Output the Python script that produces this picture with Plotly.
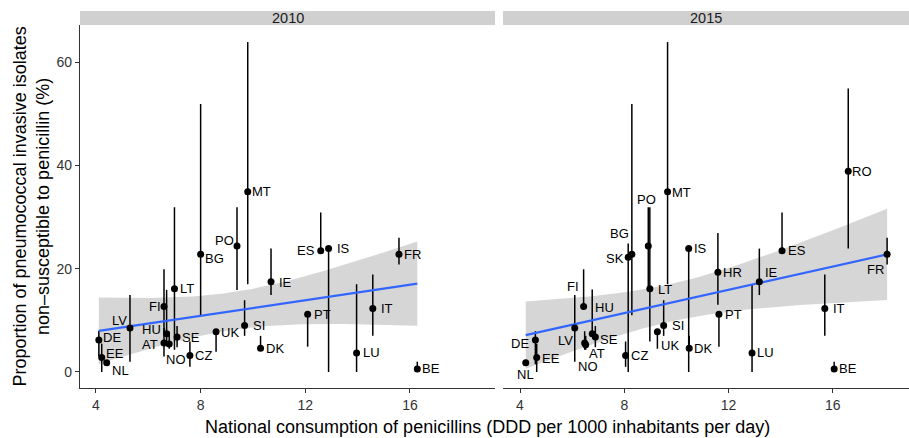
import math
import numpy as np
import plotly.graph_objects as go

# ---------------- data ----------------
countries_2010 = ["DE", "EE", "NL", "LV", "FI", "AT", "HU", "NO", "LT", "SE", "CZ", "BG", "UK",
                  "PO", "SI", "MT", "DK", "IE", "PT", "ES", "IS", "LU", "IT", "FR", "BE"]
consumption_2010 = [4.11, 4.22, 4.41, 5.30, 6.60, 6.60, 6.70, 6.80, 7.00, 7.10, 7.59, 8.00, 8.59,
                    9.39, 9.68, 9.80, 10.29, 10.69, 12.09, 12.59, 12.89, 13.96, 14.58, 15.58, 16.28]
resistance_2010 = [6.2, 2.8, 1.8, 8.5, 12.7, 5.6, 7.4, 5.4, 16.1, 6.8, 3.2, 22.8, 7.8,
                   24.4, 9.0, 34.9, 4.6, 17.5, 11.2, 23.5, 23.9, 3.7, 12.3, 22.8, 0.6]
low_2010 = [3.0, 0.0, 1.8, 2.0, 7.5, 3.0, 5.0, 4.5, 4.3, 4.8, 1.0, 11.0, 3.9,
            15.9, 7.0, 17.0, 4.6, 14.9, 4.9, 23.5, 0.0, 0.0, 7.0, 20.8, 0.6]
high_2010 = [8.0, 5.5, 1.8, 14.9, 19.9, 8.5, 15.9, 7.8, 31.9, 8.9, 5.9, 51.9, 7.8,
             31.9, 13.9, 63.9, 7.0, 23.9, 11.7, 30.9, 23.9, 17.0, 18.9, 26.0, 2.0]

countries_2015 = ["NL", "DE", "EE", "LV", "FI", "AT", "NO", "HU", "SE", "CZ", "SK", "BG", "PO", "LT",
                  "UK", "SI", "MT", "IS", "DK", "HR", "PT", "LU", "IE", "ES", "IT", "BE", "RO", "FR"]
consumption_2015 = [4.22, 4.59, 4.64, 6.10, 6.44, 6.48, 6.52, 6.77, 6.89, 8.05, 8.15, 8.29, 8.92, 8.98,
                    9.27, 9.51, 9.66, 10.47, 10.49, 11.59, 11.63, 12.90, 13.18, 14.05, 15.69, 16.05, 16.59, 18.08]
resistance_2015 = [1.8, 6.2, 2.8, 8.5, 12.7, 5.6, 5.3, 7.4, 6.8, 3.2, 22.2, 22.8, 24.4, 16.1,
                   7.8, 9.0, 34.9, 23.9, 4.6, 19.3, 11.2, 3.7, 17.5, 23.5, 12.3, 0.6, 38.9, 22.8]
low_2015 = [1.8, 1.5, 0.0, 2.0, 12.7, 4.3, 4.3, 7.4, 4.8, 1.0, 0.0, 11.0, 15.9, 5.9,
            4.5, 7.0, 17.0, 0.0, 4.6, 13.0, 4.9, 0.0, 14.9, 23.5, 7.0, 0.6, 23.9, 20.8]
high_2015 = [1.8, 7.9, 5.5, 14.9, 19.9, 7.9, 7.0, 16.0, 8.9, 5.9, 24.9, 51.9, 31.9, 31.9,
             7.8, 13.9, 63.9, 23.9, 7.0, 26.9, 11.7, 17.0, 23.9, 30.9, 18.9, 2.0, 54.9, 26.0]

years = ["2010", "2015"]
x_ticks = [4, 8, 12, 16]
y_ticks = [0, 20, 40, 60]

# label placement (anchor, x shift px, y shift px downward)
label_pos_2010 = [("l", 3, -2), ("l", 3, -4), ("l", 4, 8), ("r", -2, -8), ("r", -2, 0), ("r", -5, 1),
                  ("r", -5, -4), ("l", -4, 15), ("l", 5, 0), ("l", 4, 1), ("l", 4, 0), ("l", 3, 4),
                  ("l", 4, 1), ("r", -2, -6), ("l", 7, 0), ("l", 3, 0), ("l", 4, 0), ("l", 7, 1),
                  ("l", 5, 0), ("r", -5, 0), ("l", 7, 0), ("l", 5, 0), ("l", 7, 0), ("l", 4, 0),
                  ("l", 4, 0)]
label_pos_2015 = [("c", 0, 12), ("r", -5, 4), ("l", 4, 1), ("r", -1, 12), ("r", -4, -20), ("l", 3, 10),
                  ("c", 2, 22), ("l", 2, -26), ("l", 4, 3), ("l", 4, 0), ("r", -3, 1), ("r", -2, -21),
                  ("c", -2, -47), ("l", 7, 1), ("l", 3, 14), ("l", 7, 0), ("l", 3, 1), ("l", 4, 0),
                  ("l", 4, 0), ("l", 4, 0), ("l", 5, 0), ("l", 4, 0), ("l", 5, -9), ("l", 5, 0),
                  ("l", 7, 0), ("l", 4, 0), ("l", 3, 0), ("r", -2, 15)]


# ---------------- helpers: linear model with 95% CI (as geom_smooth(method="lm")) ----------------
def t_quantile(p, df):
    def pdf(t):
        return math.exp(math.lgamma((df + 1) / 2) - math.lgamma(df / 2)) / math.sqrt(df * math.pi) * \
            (1 + t * t / df) ** (-(df + 1) / 2)

    def cdf(t):
        xs = np.linspace(0, t, 2001)
        ys = np.array([pdf(v) for v in xs])
        return 0.5 + float(np.sum((ys[1:] + ys[:-1]) / 2 * np.diff(xs)))

    lo, hi = 0.0, 10.0
    for _ in range(60):
        mid = (lo + hi) / 2
        if cdf(mid) < p:
            lo = mid
        else:
            hi = mid
    return (lo + hi) / 2


def lm_fit(x, y):
    x = np.asarray(x, float)
    y = np.asarray(y, float)
    n = len(x)
    xb, yb = x.mean(), y.mean()
    sxx = np.sum((x - xb) ** 2)
    b = np.sum((x - xb) * (y - yb)) / sxx
    a = yb - b * xb
    resid = y - (a + b * x)
    s = math.sqrt(np.sum(resid ** 2) / (n - 2))
    tq = t_quantile(0.975, n - 2)
    xg = np.linspace(x.min(), x.max(), 80)
    yg = a + b * xg
    se = s * np.sqrt(1 / n + (xg - xb) ** 2 / sxx)
    return xg, yg, yg - tq * se, yg + tq * se


# ---------------- figure ----------------
W, H = 909, 438
ML, MR, MT, MB = 80, 0, 25, 50
PW = W - ML - MR
PH = H - MT - MB

fig = go.Figure()

panels = [
    (countries_2010, consumption_2010, resistance_2010, low_2010, high_2010, label_pos_2010, "x", "y"),
    (countries_2015, consumption_2015, resistance_2015, low_2015, high_2015, label_pos_2015, "x2", "y2"),
]

annotations = []
for cc, xs, ys, los, his, pos, xa, ya in panels:
    xg, yg, lo_b, hi_b = lm_fit(xs, ys)
    # CI band
    fig.add_trace(go.Scatter(x=np.concatenate([xg, xg[::-1]]), y=np.concatenate([hi_b, lo_b[::-1]]),
                             fill="toself", fillcolor="rgba(153,153,153,0.4)", line=dict(width=0),
                             mode="lines", hoverinfo="skip", showlegend=False, xaxis=xa, yaxis=ya))
    # ranges
    bx, by = [], []
    for xv, l, h in zip(xs, los, his):
        bx += [xv, xv, None]
        by += [l, h, None]
    fig.add_trace(go.Scatter(x=bx, y=by, mode="lines", line=dict(color="black", width=1.5),
                             hoverinfo="skip", showlegend=False, xaxis=xa, yaxis=ya))
    # regression line
    fig.add_trace(go.Scatter(x=xg, y=yg, mode="lines", line=dict(color="#3366FF", width=2.2),
                             hoverinfo="skip", showlegend=False, xaxis=xa, yaxis=ya))
    # points
    fig.add_trace(go.Scatter(x=xs, y=ys, mode="markers", marker=dict(color="black", size=7),
                             text=cc, hoverinfo="text", showlegend=False, xaxis=xa, yaxis=ya))
    for c, xv, yv, (anc, dx, dy) in zip(cc, xs, ys, pos):
        annotations.append(dict(x=xv, y=yv, xref=xa, yref=ya, text=c, showarrow=False,
                                xanchor={"l": "left", "r": "right", "c": "center"}[anc],
                                yanchor="middle", xshift=dx, yshift=-dy, borderpad=0,
                                font=dict(size=13, color="black")))

dom1 = [0, 415 / PW]
dom2 = [(503 - ML) / PW, 1]

axis_common = dict(showgrid=False, zeroline=False, showline=True, linecolor="#333333", linewidth=1.1,
                   ticks="outside", ticklen=4, tickwidth=1.1, tickcolor="#333333",
                   tickfont=dict(size=14, color="#333333"), tickvals=x_ticks)

fig.update_layout(
    width=W, height=H,
    margin=dict(l=ML, r=MR, t=MT, b=MB, pad=0),
    paper_bgcolor="white", plot_bgcolor="white",
    font=dict(family="Liberation Sans, Arial, sans-serif", color="black"),
    xaxis=dict(domain=dom1, range=[3.39, 19.25], anchor="y", **axis_common),
    xaxis2=dict(domain=dom2, range=[3.348, 18.92], anchor="y2", **axis_common),
    yaxis=dict(range=[-3.1, 67.2], domain=[0, 1], anchor="x", showgrid=False, zeroline=False,
               showline=True, linecolor="#333333", linewidth=1.1, ticks="outside", ticklen=4,
               tickwidth=1.1, tickcolor="#333333", tickvals=y_ticks,
               tickfont=dict(size=14, color="#333333")),
    yaxis2=dict(range=[-3.1, 67.2], domain=[0, 1], anchor="x2", matches="y", showgrid=False,
                zeroline=False, showline=False, showticklabels=False, ticks=""),
    hovermode="closest",
)

# facet strips
strip_h = 14 / PH
shapes = []
for dom, yr in zip([dom1, dom2], years):
    shapes.append(dict(type="rect", xref="paper", yref="paper", x0=dom[0], x1=dom[1], y0=1, y1=1 + strip_h,
                       fillcolor="#D0D0D0", line=dict(width=0), layer="below"))
    annotations.append(dict(x=(dom[0] + dom[1]) / 2, y=1 + strip_h / 2, xref="paper", yref="paper",
                            text=yr, showarrow=False, xanchor="center", yanchor="middle",
                            font=dict(size=14.5, color="#1a1a1a")))

# axis titles
annotations.append(dict(x=(487 - ML) / PW, y=(MT + PH - 427) / PH, xref="paper", yref="paper",
                        text="National consumption of penicillins (DDD per 1000 inhabitants per day)",
                        showarrow=False, xanchor="center", yanchor="middle", font=dict(size=18, color="black")))
annotations.append(dict(x=(31 - ML) / PW, y=0.5, xref="paper", yref="paper", textangle=-90,
                        text="Proportion of pneumococcal invasive isolates<br>non–susceptible to penicillin (%)",
                        showarrow=False, xanchor="center", yanchor="middle", font=dict(size=18, color="black")))

fig.update_layout(shapes=shapes, annotations=annotations)
fig.write_html("out.html", config={"displayModeBar": False},
               post_script="document.body.style.margin='0';document.body.style.overflow='hidden';")
